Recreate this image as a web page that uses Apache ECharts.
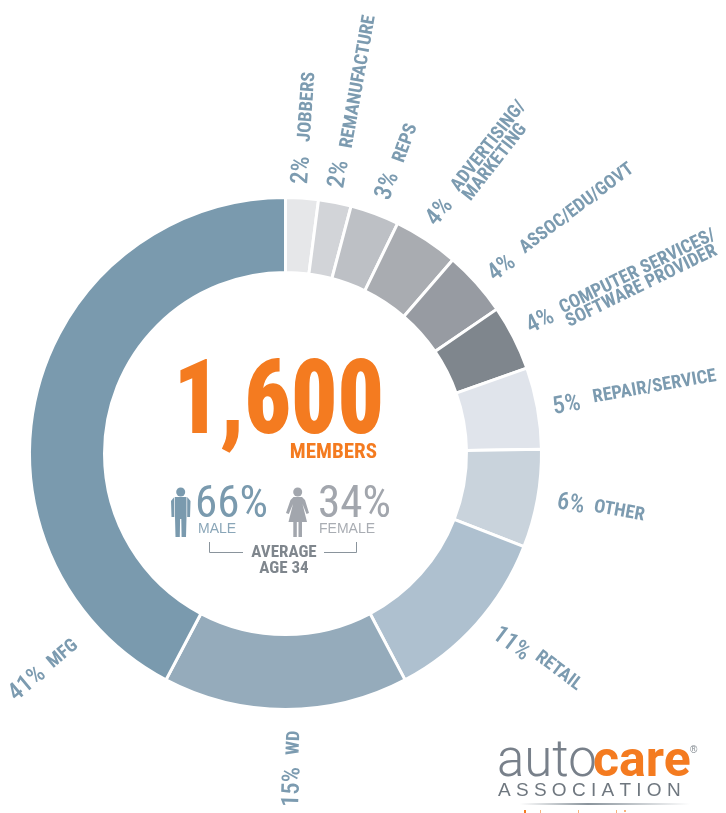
<!DOCTYPE html>
<html>
<head>
<meta charset="utf-8">
<style>
  html, body { margin: 0; padding: 0; background: #fff; overflow: hidden; }
  #main { width: 726px; height: 813px; }
</style>
<script src="https://cdn.jsdelivr.net/npm/echarts@6/dist/echarts.min.js"></script>
</head>
<body>
<div id="main"></div>
<script>
var categories = ['JOBBERS', 'REMANUFACTURE', 'REPS', 'ADVERTISING/\nMARKETING', 'ASSOC/EDU/GOVT',
  'COMPUTER SERVICES/\nSOFTWARE PROVIDER', 'REPAIR/SERVICE', 'OTHER', 'RETAIL', 'WD', 'MFG'];
var shares = [2, 2, 3, 4, 4, 4, 5, 6, 11, 15, 41];
var sliceColors = ['#e6e7e9', '#d2d4d8', '#bdc0c5', '#a9acb1', '#979ba2', '#7f868d',
  '#e0e4eb', '#c9d3dc', '#aec0cf', '#95abbb', '#7a9aae'];

// label anchors in page pixels: [x, y, rotation]
var nameSpots = [
  [305, 142, 86], [347, 148, 80], [399, 162, 70], [461, 194, 52], [522, 250, 37],
  [564, 316, 26], [593, 398, 10], [594, 507, -10], [537, 655, -37], [294, 755, 88], [50, 665, 40]
];
var percentSpots = [
  [301, 184, 86], [337, 188, 80], [383, 199, 69], [431, 223, 50], [491, 277, 38],
  [528, 328, 27], [553, 408, 10], [557, 502, -10], [495, 632, -37], [292, 807, 88], [12, 697, 40]
];

var pieData = categories.map(function (c, i) {
  return { name: c, value: shares[i], itemStyle: { color: sliceColors[i] } };
});

var labelBlue = '#7c9bb0';
var narrow = '"Roboto Condensed", Roboto, sans-serif';
var plain = '"Liberation Sans", sans-serif';

function personMale(x, y) {
  var c = '#7a9aae';
  return {
    type: 'group', x: x, y: y, silent: true,
    children: [
      { type: 'circle', shape: { cx: 9.7, cy: 4, r: 4.5 }, style: { fill: c } },
      { type: 'polygon', shape: { points: [[4, 9], [15.5, 9], [15.5, 29], [15, 49], [10.6, 49], [10.3, 31], [9.1, 31], [8.8, 49], [4.5, 49], [4, 29]] }, style: { fill: c } },
      { type: 'polygon', shape: { points: [[3.3, 9], [3.3, 29], [0.5, 29], [0, 13]] }, style: { fill: c } },
      { type: 'polygon', shape: { points: [[16.2, 9], [19.5, 13], [19, 29], [16.2, 29]] }, style: { fill: c } }
    ]
  };
}

function personFemale(x, y) {
  var c = '#a2a6ad';
  return {
    type: 'group', x: x, y: y, silent: true,
    children: [
      { type: 'circle', shape: { cx: 11.7, cy: 4, r: 4.5 }, style: { fill: c } },
      { type: 'polygon', shape: { points: [[7.5, 9], [16, 9], [19, 12], [23, 25], [20.5, 26], [16.5, 16], [21, 34], [16, 34], [16, 49], [12.5, 49], [12.5, 34], [10.8, 34], [10.8, 49], [7.3, 49], [7.3, 34], [2.5, 34], [7, 16], [2.8, 26], [0, 25], [4.5, 12]] }, style: { fill: c } }
    ]
  };
}

var myChart = echarts.init(document.getElementById('main'));

var option = {
  animation: false,
  backgroundColor: '#fff',
  series: [
    {
      type: 'pie',
      name: 'names',
      center: [285.5, 453.5],
      radius: [181, 256],
      startAngle: 90,
      clockwise: true,
      avoidLabelOverlap: false,
      silent: true,
      data: pieData,
      itemStyle: { borderColor: '#fff', borderWidth: 3 },
      label: {
        show: true, position: 'outside', color: labelBlue,
        fontFamily: narrow, fontWeight: 'bold', fontSize: 18.5, lineHeight: 15,
        formatter: '{b}'
      },
      labelLine: { show: false },
      labelLayout: function (p) {
        var s = nameSpots[p.dataIndex];
        return { x: s[0], y: s[1], rotate: s[2], align: 'left', verticalAlign: 'middle' };
      }
    },
    {
      // second pass only carries the bigger percent figures
      type: 'pie',
      name: 'percents',
      center: [285.5, 453.5],
      radius: [181, 256],
      startAngle: 90,
      avoidLabelOverlap: false,
      silent: true,
      data: pieData.map(function (d) { return { name: d.name, value: d.value }; }),
      itemStyle: { color: 'transparent', borderWidth: 0 },
      label: {
        show: true, position: 'outside', color: labelBlue,
        fontFamily: narrow, fontWeight: 500, fontSize: 24.5,
        formatter: function (p) { return p.value + '%'; }
      },
      labelLine: { show: false },
      labelLayout: function (p) {
        var s = percentSpots[p.dataIndex];
        return { x: s[0], y: s[1], rotate: s[2], align: 'left', verticalAlign: 'middle' };
      }
    }
  ],
  graphic: [
    { type: 'text', x: 384, y: 407, scaleX: 0.875, originX: 0, style: { text: '1,600', fill: '#f47b20', font: '900 104px ' + narrow, textAlign: 'right', textVerticalAlign: 'middle' } },
    { type: 'text', x: 377, y: 453, style: { text: 'MEMBERS', fill: '#f47b20', font: 'bold 21px ' + narrow, textAlign: 'right', textVerticalAlign: 'middle' } },

    personMale(171, 488),
    { type: 'text', x: 195, y: 506, style: { text: '66%', fill: '#7a9aae', font: '45px ' + narrow, textVerticalAlign: 'middle' } },
    { type: 'text', x: 198, y: 529, style: { text: 'MALE', fill: '#8aa6b8', font: '14px ' + plain, textVerticalAlign: 'middle' } },

    personFemale(286, 488),
    { type: 'text', x: 318, y: 506, style: { text: '34%', fill: '#a2a6ad', font: '45px ' + narrow, textVerticalAlign: 'middle' } },
    { type: 'text', x: 319, y: 529, style: { text: 'FEMALE', fill: '#a9adb3', font: '14px ' + plain, textVerticalAlign: 'middle' } },

    { type: 'polyline', silent: true, shape: { points: [[209.5, 542], [209.5, 552.5], [243, 552.5]] }, style: { stroke: '#8a949c', lineWidth: 1, fill: null } },
    { type: 'polyline', silent: true, shape: { points: [[324, 552.5], [356.5, 552.5], [356.5, 542]] }, style: { stroke: '#8a949c', lineWidth: 1, fill: null } },
    { type: 'text', x: 284, y: 553, style: { text: 'AVERAGE', fill: '#7f868d', font: 'bold 17px ' + narrow, textAlign: 'center', textVerticalAlign: 'middle' } },
    { type: 'text', x: 284, y: 569, style: { text: 'AGE 34', fill: '#7f868d', font: 'bold 17px ' + narrow, textAlign: 'center', textVerticalAlign: 'middle' } },

    // logo
    { type: 'text', x: 497, y: 763, style: { text: 'auto', fill: '#78808a', font: '300 51px Roboto, sans-serif', textVerticalAlign: 'middle' } },
    { type: 'text', x: 593, y: 763, style: { text: 'care', fill: '#f47b20', font: 'bold 50px Roboto, sans-serif', textVerticalAlign: 'middle' } },
    { type: 'text', x: 690, y: 750, style: { text: '®', fill: '#7f868d', font: '10px ' + plain, textVerticalAlign: 'middle' } },
    { type: 'text', x: 498, y: 791, style: { text: 'A S S O C I A T I O N', fill: '#6f777f', font: '19px ' + plain, textVerticalAlign: 'middle' } },
    { type: 'rect', silent: true, shape: { x: 520, y: 803, width: 170, height: 2 }, style: { fill: new echarts.graphic.LinearGradient(0, 0, 1, 0, [{ offset: 0, color: '#ffffff' }, { offset: 0.4, color: '#8a949c' }, { offset: 1, color: '#ffffff' }]) } },
    // tips of the cut off orange line under the logo
    { type: 'rect', silent: true, shape: { x: 524, y: 810, width: 2, height: 3 }, style: { fill: '#f47b20' } },
    { type: 'rect', silent: true, shape: { x: 540, y: 810, width: 1, height: 3 }, style: { fill: '#f8b27c' } },
    { type: 'rect', silent: true, shape: { x: 578, y: 810, width: 1, height: 3 }, style: { fill: '#f8b27c' } },
    { type: 'rect', silent: true, shape: { x: 616, y: 810, width: 1, height: 3 }, style: { fill: '#f8b27c' } },
    { type: 'rect', silent: true, shape: { x: 624, y: 810, width: 2, height: 2 }, style: { fill: '#f8b27c' } }
  ]
};

myChart.setOption(option);
</script>
</body>
</html>
